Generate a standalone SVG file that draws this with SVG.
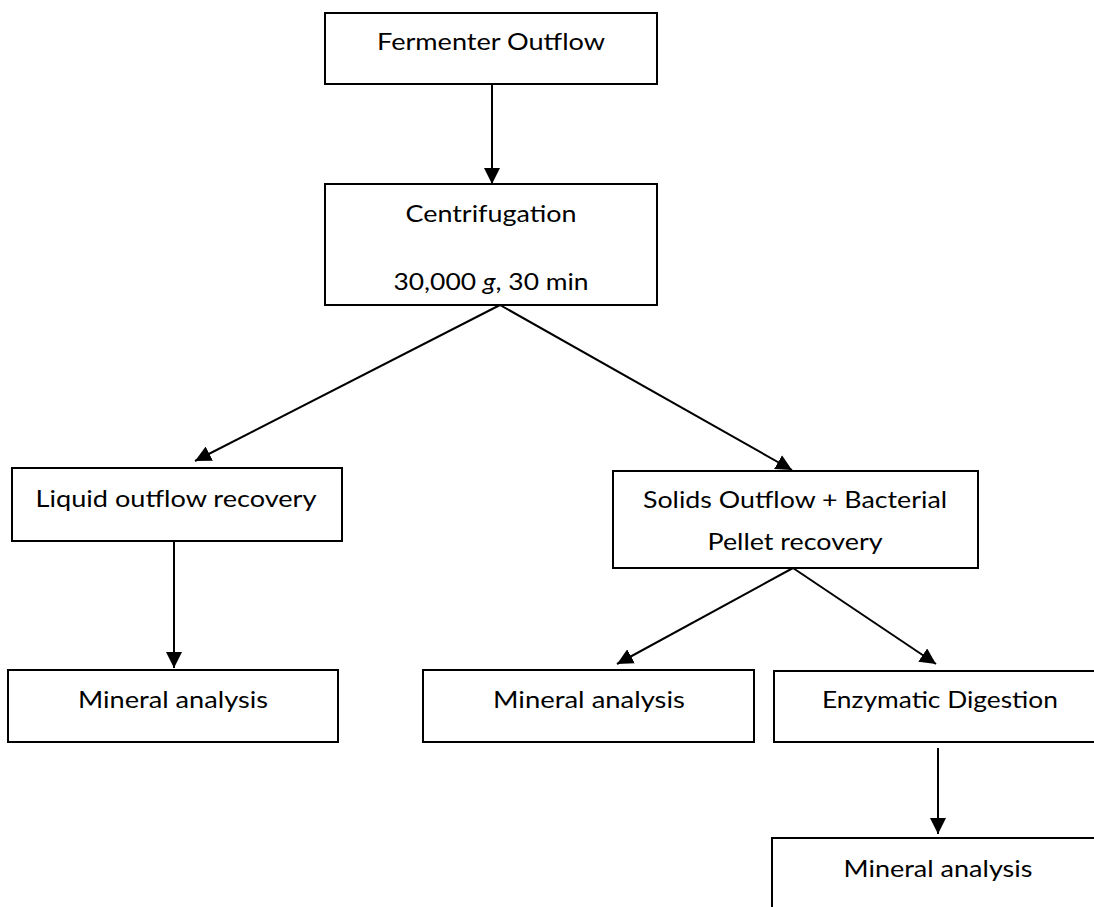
<svg xmlns="http://www.w3.org/2000/svg" width="1094" height="907" viewBox="0 0 1094 907">
<style>
.box{fill:#fff;stroke:#000;stroke-width:2}
.lbl{font-family:Lato,"Open Sans","Liberation Sans",sans-serif;font-size:24px;fill:#000;text-anchor:middle}
.conn{stroke:#000;stroke-width:2;fill:none;marker-end:url(#ah)}
</style>
<defs>
<marker id="ah" markerUnits="userSpaceOnUse" markerWidth="16" markerHeight="16" viewBox="0 0 16 16" refX="16" refY="8" orient="auto">
<path d="M0,0 L16,8 L0,16 Z" fill="#000"/>
</marker>
</defs>
<rect width="1094" height="907" fill="#fff"/>
<g id="connectors">
<line class="conn" x1="492" y1="84" x2="492" y2="184"/>
<line class="conn" x1="500" y1="305" x2="195" y2="461"/>
<line class="conn" x1="500" y1="305" x2="792" y2="470"/>
<line class="conn" x1="174" y1="541" x2="174" y2="668"/>
<line class="conn" x1="793" y1="568" x2="617" y2="664"/>
<line class="conn" x1="793" y1="568" x2="936" y2="664"/>
<line class="conn" x1="938" y1="748" x2="938" y2="834"/>
</g>
<g id="fermenter">
<rect class="box" x="325" y="13" width="332" height="71"/>
<text class="lbl" x="491" y="50" textLength="228" lengthAdjust="spacingAndGlyphs">Fermenter Outflow</text>
</g>
<g id="centrifugation">
<rect class="box" x="325" y="184" width="332" height="121"/>
<text class="lbl" x="491" y="222" textLength="171" lengthAdjust="spacingAndGlyphs">Centrifugation</text>
<text class="lbl" x="491" y="290" textLength="195" lengthAdjust="spacingAndGlyphs">30,000 <tspan font-style="italic">g</tspan>, 30 min</text>
</g>
<g id="liquid">
<rect class="box" x="12" y="468" width="330" height="73"/>
<text class="lbl" x="176" y="507" textLength="281" lengthAdjust="spacingAndGlyphs">Liquid outflow recovery</text>
</g>
<g id="mineral1">
<rect class="box" x="8" y="670" width="330" height="72"/>
<text class="lbl" x="173" y="708" textLength="190" lengthAdjust="spacingAndGlyphs">Mineral analysis</text>
</g>
<g id="solids">
<rect class="box" x="613" y="471" width="365" height="97"/>
<text class="lbl" x="795" y="508" textLength="304" lengthAdjust="spacingAndGlyphs">Solids Outflow + Bacterial</text>
<text class="lbl" x="795" y="550" textLength="175" lengthAdjust="spacingAndGlyphs">Pellet recovery</text>
</g>
<g id="mineral2">
<rect class="box" x="423" y="670" width="331" height="72"/>
<text class="lbl" x="589" y="708" textLength="192" lengthAdjust="spacingAndGlyphs">Mineral analysis</text>
</g>
<g id="enzymatic">
<rect class="box" x="774" y="671" width="332" height="71"/>
<text class="lbl" x="940" y="708" textLength="236" lengthAdjust="spacingAndGlyphs">Enzymatic Digestion</text>
</g>
<g id="mineral3">
<rect class="box" x="772" y="838" width="332" height="72"/>
<text class="lbl" x="938" y="877" textLength="189" lengthAdjust="spacingAndGlyphs">Mineral analysis</text>
</g>
</svg>
